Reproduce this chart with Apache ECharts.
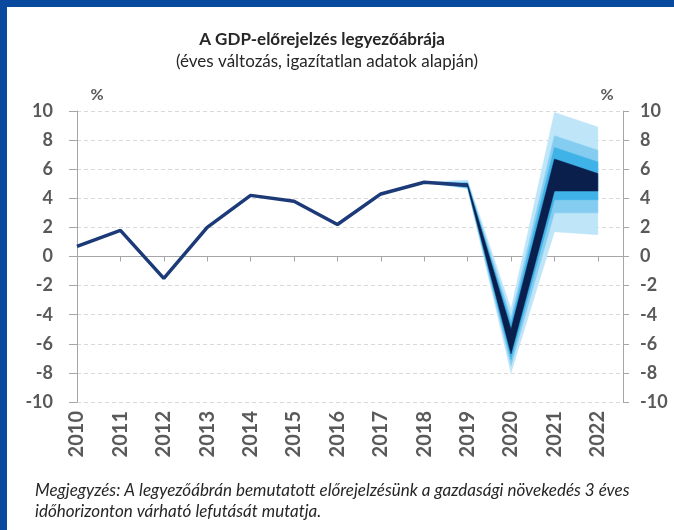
<!DOCTYPE html>
<html>
<head>
<meta charset="utf-8">
<script src="https://cdn.jsdelivr.net/npm/echarts@6/dist/echarts.min.js"></script>
<style>
html,body{margin:0;padding:0;background:#fff;}
#c{width:674px;height:530px;}
</style>
</head>
<body>
<div id="c"></div>
<script>
// ---- data ----
const years = ['2010','2011','2012','2013','2014','2015','2016','2017','2018','2019','2020','2021','2022'];
const gdp = [0.7, 1.8, -1.5, 2.0, 4.2, 3.8, 2.2, 4.3, 5.1, 4.9];   // 2010-2019
const fanYears = [2018, 2019, 2020, 2021, 2022];
const lightLo = [5.1, 4.65, -8.0, 1.7, 1.5];
const midLightLo = [5.1, 4.7, -7.5, 3.0, 3.0];
const midLo = [5.1, 4.75, -7.1, 3.9, 3.9];
const darkLo = [5.1, 4.8, -6.7, 4.5, 4.5];
const darkHi = [5.1, 5.0, -5.0, 6.7, 5.7];
const midHi = [5.1, 5.05, -4.6, 7.5, 6.5];
const midLightHi = [5.1, 5.1, -4.2, 8.3, 7.3];
const lightHi = [5.1, 5.25, -3.6, 9.9, 8.9];

const FONT = 'Lato, "Open Sans", sans-serif';
const GREY = '#595959';
const AXIS = '#a6a6a6';
const cLight = '#bfe5f8', cMidLight = '#84cdf0', cMid = '#3fb2e8', cDark = '#0b1f4d';

const chart = echarts.init(document.getElementById('c'));

function band(name, lower, upper, color, z) {
  return {
    name, type: 'custom', silent: true, z,
    data: fanYears.map((y, i) => [y, lower[i], upper[i]]),
    encode: { x: 0, y: [1, 2] },
    renderItem: (params, api) => {
      if (params.dataIndex !== 0) return null;
      const up = fanYears.map((y, i) => api.coord([y, upper[i]]));
      const lo = fanYears.map((y, i) => api.coord([y, lower[i]])).reverse();
      return { type: 'polygon', shape: { points: up.concat(lo) }, style: { fill: color, stroke: color, lineWidth: 0.5 } };
    }
  };
}

const fanSeries = [
  band('light', lightLo, lightHi, cLight, 1),
  band('midLight', midLightLo, midLightHi, cMidLight, 2),
  band('mid', midLo, midHi, cMid, 3),
  band('dark', darkLo, darkHi, cDark, 4)
];

const option = {
  animation: false,
  backgroundColor: '#ffffff',
  textStyle: { fontFamily: FONT },
  grid: { left: 77, right: 51, top: 111, bottom: 128 },
  xAxis: [
    {
      type: 'value', min: 2010, max: 2022.58, interval: 1, position: 'bottom',
      axisLine: { show: false, onZero: false }, axisTick: { show: false }, splitLine: { show: false },
      axisLabel: {
        rotate: 90, margin: 9, color: GREY, fontSize: 20, fontWeight: 'bold', fontFamily: FONT,
        showMaxLabel: false,
        formatter: v => { const i = Math.round(v - 2010); return (Math.abs(v - 2010 - i) < 1e-6 && years[i]) ? years[i] : ''; }
      }
    },
    {
      type: 'value', min: 2010, max: 2022.58, interval: 1, position: 'top',
      axisLine: { show: true, onZero: true, onZeroAxisIndex: 0, lineStyle: { color: AXIS, width: 1 } },
      axisTick: { show: true, inside: true, length: 5, lineStyle: { color: AXIS } },
      axisLabel: { show: false }, splitLine: { show: false }
    }
  ],
  yAxis: [
    {
      type: 'value', min: -10, max: 10, interval: 2, position: 'left',
      axisLine: { show: true, onZero: false, lineStyle: { color: AXIS } },
      axisTick: { show: true, length: 8, lineStyle: { color: AXIS } },
      axisLabel: { margin: 24, color: GREY, fontSize: 18, fontWeight: 'bold', fontFamily: FONT },
      splitLine: { show: true, lineStyle: { color: '#d9d9d9', type: [4, 3] } }
    },
    {
      type: 'value', min: -10, max: 10, interval: 2, position: 'right',
      axisLine: { show: true, onZero: false, lineStyle: { color: AXIS } },
      axisTick: { show: true, length: 6, lineStyle: { color: AXIS } },
      axisLabel: { margin: 17, color: GREY, fontSize: 18, fontWeight: 'bold', fontFamily: FONT },
      splitLine: { show: false }
    }
  ],
  series: fanSeries.concat([
    {
      name: 'GDP', type: 'line', symbol: 'none', silent: true, z: 5,
      lineStyle: { color: '#1d3a78', width: 3.5 },
      data: gdp.map((v, i) => [+years[i], v])
    }
  ]),
  graphic: [
    { type: 'rect', shape: { x: 0, y: 0, width: 7, height: 530 }, style: { fill: '#0a4a9e' }, z: 100 },
    { type: 'rect', shape: { x: 0, y: 0, width: 674, height: 7 }, style: { fill: '#0a4a9e' }, z: 100 },
    { type: 'text', x: 322, y: 40, style: { text: 'A GDP-előrejelzés legyezőábrája', textAlign: 'center', textVerticalAlign: 'middle', font: 'bold 17px ' + FONT, fill: '#262626' } },
    { type: 'text', x: 327, y: 62, style: { text: '(éves változás, igazítatlan adatok alapján)', textAlign: 'center', textVerticalAlign: 'middle', font: '17px ' + FONT, fill: '#262626' } },
    { type: 'text', x: 97, y: 95, style: { text: '%', textAlign: 'center', textVerticalAlign: 'middle', font: 'bold 16px ' + FONT, fill: GREY } },
    { type: 'text', x: 607, y: 95, style: { text: '%', textAlign: 'center', textVerticalAlign: 'middle', font: 'bold 16px ' + FONT, fill: GREY } },
    { type: 'text', x: 35, y: 491, style: { text: 'Megjegyzés: A legyezőábrán bemutatott előrejelzésünk a gazdasági növekedés 3 éves', textAlign: 'left', textVerticalAlign: 'middle', font: 'italic 17px ' + FONT, fill: '#262626' } },
    { type: 'text', x: 35, y: 512, style: { text: 'időhorizonton várható lefutását mutatja.', textAlign: 'left', textVerticalAlign: 'middle', font: 'italic 17px ' + FONT, fill: '#262626' } }
  ]
};
chart.setOption(option);
</script>
</body>
</html>
